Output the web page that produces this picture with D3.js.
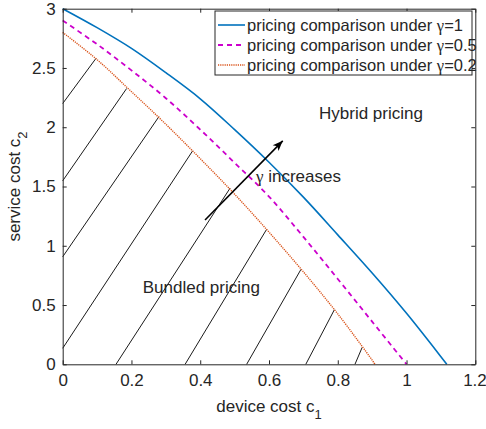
<!DOCTYPE html>
<html><head><meta charset="utf-8">
<script src="https://cdn.jsdelivr.net/npm/d3@7"></script>
<style>body{margin:0;background:#fff}svg{display:block}text{font-family:"Liberation Sans",Arial,sans-serif;fill:#262626}</style>
</head><body><svg id="c" width="486" height="429"></svg>
<script>
// data
const xBlue = [0, 0.1, 0.2, 0.3, 0.4, 0.5, 0.6, 0.7, 0.8, 0.9, 1.0, 1.1, 1.117];
const yBlue = [3.0, 2.84, 2.665, 2.46, 2.24, 1.98, 1.705, 1.41, 1.092, 0.77, 0.43, 0.064, 0];
const xPurple = [0, 0.1, 0.2, 0.3, 0.4, 0.5, 0.6, 0.7, 0.8, 0.9, 1.0];
const yPurple = [2.9, 2.70, 2.48, 2.245, 1.98, 1.70, 1.415, 1.075, 0.72, 0.36, 0];
const xOrange = [0, 0.1, 0.2, 0.3, 0.4, 0.5, 0.6, 0.7, 0.8, 0.9, 0.908];
const yOrange = [2.8, 2.57, 2.30, 2.025, 1.735, 1.435, 1.115, 0.78, 0.425, 0.035, 0];
const hatchX1 = [0, 0, 0, 0, 0.155, 0.356, 0.535, 0.707, 0.850];
const hatchY1 = [2.2, 1.548, 0.907, 0.135, 0, 0, 0, 0, 0];
const hatchX2 = [0.0966, 0.186, 0.280, 0.378, 0.487, 0.593, 0.693, 0.790, 0.871];
const hatchY2 = [2.580, 2.327, 2.090, 1.801, 1.487, 1.138, 0.801, 0.460, 0.143];
const xTicks = [0, 0.2, 0.4, 0.6, 0.8, 1, 1.2];
const yTicks = [0, 0.5, 1, 1.5, 2, 2.5, 3];
const legendLabels = ["1", "0.5", "0.2"];
const arrowX = [0.414, 0.640];
const arrowY = [1.217, 1.885];

const svg = d3.select("#c");
const L = 62.7, R = 475.3, T = 8.7, B = 364.3;
const x = d3.scaleLinear().domain([0, 1.2]).range([L, R]);
const y = d3.scaleLinear().domain([0, 3]).range([B, T]);
const axisColor = "#262626";

// hatch
const hatch = svg.append("g");
hatchX1.forEach((v, i) => {
  hatch.append("line").attr("x1", x(v)).attr("y1", y(hatchY1[i]))
    .attr("x2", x(hatchX2[i])).attr("y2", y(hatchY2[i]))
    .attr("stroke", "#000").attr("stroke-width", 0.9);
});

const line = d3.line().x(d => x(d[0])).y(d => y(d[1])).curve(d3.curveCatmullRom.alpha(0.5));
const series = [
  {xs: xBlue, ys: yBlue, color: "#0072BD", dash: null, w: 1.6},
  {xs: xPurple, ys: yPurple, color: "#CC00CC", dash: "5,4", w: 1.8},
  {xs: xOrange, ys: yOrange, color: "#D95319", dash: "1.2,1", w: 1.4}
];
series.forEach(s => {
  svg.append("path").datum(s.xs.map((v, i) => [v, s.ys[i]]))
    .attr("d", line).attr("fill", "none").attr("stroke", s.color)
    .attr("stroke-width", s.w).attr("stroke-dasharray", s.dash);
});

// axes
const gx = svg.append("g").attr("transform", `translate(0,${B})`)
  .call(d3.axisBottom(x).tickValues(xTicks).tickFormat(d3.format("~g")).tickSizeInner(-4).tickSizeOuter(0).tickPadding(10));
const gy = svg.append("g").attr("transform", `translate(${L},0)`)
  .call(d3.axisLeft(y).tickValues(yTicks).tickFormat(d3.format("~g")).tickSizeInner(-4).tickSizeOuter(0).tickPadding(7));
const gxt = svg.append("g").attr("transform", `translate(0,${T})`)
  .call(d3.axisTop(x).tickValues(xTicks).tickFormat("").tickSizeInner(-4).tickSizeOuter(0));
const gyr = svg.append("g").attr("transform", `translate(${R},0)`)
  .call(d3.axisRight(y).tickValues(yTicks).tickFormat("").tickSizeInner(-4).tickSizeOuter(0));
[gx, gy, gxt, gyr].forEach(g => {
  g.select(".domain").attr("stroke", axisColor).attr("stroke-width", 1);
  g.selectAll(".tick line").attr("stroke", axisColor);
  g.selectAll("text").attr("font-size", 17).attr("fill", axisColor).attr("font-family", "Liberation Sans, Arial, sans-serif");
});
gx.selectAll(".tick").filter(d => d === 1.2).select("text").attr("text-anchor", "end").attr("x", 11);

// axis labels
const xl = svg.append("text").attr("x", (L + R) / 2).attr("y", 412).attr("text-anchor", "middle").attr("font-size", 17);
xl.append("tspan").text("device cost c");
xl.append("tspan").attr("dy", 7).attr("font-size", 13).text("1");
const yl = svg.append("text").attr("transform", `translate(20,${(T + B) / 2}) rotate(-90)`).attr("text-anchor", "middle").attr("font-size", 17);
yl.append("tspan").text("service cost c");
yl.append("tspan").attr("dy", 7).attr("font-size", 13).text("2");

// annotations
svg.append("text").attr("x", x(0.7455)).attr("y", y(2.068)).attr("font-size", 17).text("Hybrid pricing");
svg.append("text").attr("x", x(0.2327)).attr("y", y(0.599)).attr("font-size", 17).text("Bundled pricing");
const gt = svg.append("text").attr("x", x(0.562)).attr("y", y(1.537)).attr("font-size", 17);
gt.append("tspan").attr("font-family", "Liberation Serif, serif").text("γ");
gt.append("tspan").text(" increases");

// arrow
const ax1 = x(arrowX[0]), ay1 = y(arrowY[0]), ax2 = x(arrowX[1]), ay2 = y(arrowY[1]);
svg.append("line").attr("x1", ax1).attr("y1", ay1).attr("x2", ax2).attr("y2", ay2)
  .attr("stroke", "#000").attr("stroke-width", 1.6);
const ang = Math.atan2(ay2 - ay1, ax2 - ax1), hl = 11, hw = 0.38;
const p1 = [ax2 - hl * Math.cos(ang - hw), ay2 - hl * Math.sin(ang - hw)];
const p2 = [ax2 - hl * Math.cos(ang + hw), ay2 - hl * Math.sin(ang + hw)];
const p3 = [ax2 - hl * 0.7 * Math.cos(ang), ay2 - hl * 0.7 * Math.sin(ang)];
svg.append("path").attr("d", `M${ax2},${ay2}L${p1[0]},${p1[1]}L${p3[0]},${p3[1]}L${p2[0]},${p2[1]}Z`).attr("fill", "#000");

// legend
const lg = svg.append("g");
lg.append("rect").attr("x", 215).attr("y", 11).attr("width", 257).attr("height", 64)
  .attr("fill", "#fff").attr("stroke", axisColor).attr("stroke-width", 1);
series.forEach((s, i) => {
  const yy = 25 + i * 20;
  lg.append("line").attr("x1", 218).attr("x2", 245).attr("y1", yy).attr("y2", yy)
    .attr("stroke", s.color).attr("stroke-width", s.w).attr("stroke-dasharray", s.dash);
  const t = lg.append("text").attr("x", 247).attr("y", yy + 5.5).attr("font-size", 16.5);
  t.append("tspan").text("pricing comparison under ");
  t.append("tspan").attr("font-family", "Liberation Serif, serif").text("γ");
  t.append("tspan").text("=" + legendLabels[i]);
});
</script></body></html>
